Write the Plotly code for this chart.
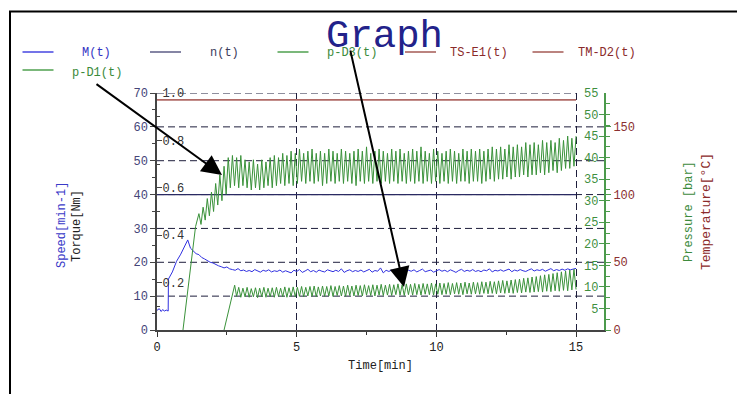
import numpy as np
import plotly.graph_objects as go

# ---------------- data ----------------
TIME_TICKS = [0, 5, 10, 15]
SPEED_TICKS = [0, 10, 20, 30, 40, 50, 60, 70]
TORQUE_TICKS = [0.2, 0.4, 0.6, 0.8, 1.0]
PRESSURE_TICKS = [5, 10, 15, 20, 25, 30, 35, 40, 45, 50, 55]
TEMP_TICKS = [0, 50, 100, 150]

# M(t) torque [Nm]: start-up segment, then samples every 0.1 min from 1.3 min
M_START_T = [0.0, 0.08, 0.15, 0.2, 0.27, 0.33, 0.4, 0.41, 0.55, 0.7, 0.85, 1.0, 1.1, 1.2]
M_START = [0.083, 0.09, 0.078, 0.086, 0.080, 0.084, 0.080, 0.215, 0.245, 0.290, 0.320, 0.355, 0.380, 0.345]
M_T0, M_STEP = 1.3, 0.1
M_VALUES = [
    0.335, 0.322, 0.318, 0.306, 0.300, 0.291, 0.286, 0.283, 0.276, 0.271,
    0.267, 0.262, 0.266, 0.258, 0.255, 0.252, 0.259, 0.250, 0.253, 0.247,
    0.251, 0.246, 0.255, 0.249, 0.244, 0.252, 0.248, 0.254, 0.245, 0.250,
    0.247, 0.253, 0.244, 0.250, 0.246, 0.241, 0.252, 0.247, 0.255, 0.243,
    0.249, 0.256, 0.246, 0.251, 0.244, 0.253, 0.248, 0.245, 0.254, 0.249,
    0.246, 0.252, 0.247, 0.258, 0.243, 0.250, 0.254, 0.246, 0.251, 0.247,
    0.253, 0.245, 0.250, 0.256, 0.244, 0.251, 0.248, 0.262, 0.241, 0.252,
    0.247, 0.253, 0.249, 0.245, 0.255, 0.250, 0.246, 0.252, 0.248, 0.254,
    0.245, 0.251, 0.257, 0.246, 0.250, 0.253, 0.244, 0.249, 0.255, 0.248,
    0.252, 0.246, 0.254, 0.249, 0.243, 0.251, 0.256, 0.247, 0.252, 0.248,
    0.255, 0.247, 0.251, 0.246, 0.253, 0.250, 0.258, 0.245, 0.252, 0.249,
    0.254, 0.248, 0.251, 0.257, 0.246, 0.253, 0.249, 0.255, 0.250, 0.247,
    0.253, 0.258, 0.249, 0.254, 0.251, 0.256, 0.248, 0.253, 0.259, 0.250,
    0.255, 0.251, 0.257, 0.252, 0.258, 0.254, 0.256, 0.260,
]

# n(t) speed [min-1]
N_T = [0, 15]
N_VALUES = [40, 40]

# p-D1(t) pressure [bar]: ramp, then peak/trough samples every 0.075 min from 1.5 min
P_D1_RAMP_T = [0.93, 1.38]
P_D1_RAMP = [0.0, 24.0]
P_D1_T0, P_D1_STEP = 1.5, 0.075
P_D1_OSC = [
    27.0, 24.5, 28.5, 25.5, 30.5, 26.5, 32.0, 27.5, 34.0, 29.0,
    36.0, 30.0, 38.0, 31.5, 40.0, 33.0, 40.5, 33.5, 40.0, 33.0,
    40.5, 33.5, 39.5, 33.0, 39.0, 32.5, 39.5, 33.0, 38.5, 32.5,
    39.5, 33.0, 39.0, 33.5, 40.0, 33.0, 40.5, 33.5, 40.0, 34.0,
    41.0, 33.5, 40.5, 34.0, 41.5, 33.5, 41.0, 34.0, 42.0, 34.5,
    41.0, 34.0, 41.5, 34.5, 42.0, 34.0, 41.0, 34.5, 41.5, 33.5,
    41.0, 34.0, 42.0, 34.5, 41.5, 34.0, 41.0, 34.5, 42.0, 34.0,
    41.5, 34.5, 41.0, 34.0, 41.5, 33.5, 42.0, 34.5, 41.5, 34.0,
    42.5, 34.5, 41.0, 34.0, 41.5, 34.5, 42.0, 34.0, 41.5, 34.5,
    41.0, 34.0, 42.0, 34.5, 41.5, 34.0, 42.0, 34.5, 41.0, 34.0,
    41.5, 34.5, 42.0, 34.0, 41.5, 34.5, 42.5, 34.0, 41.5, 34.5,
    41.0, 34.0, 42.0, 34.5, 41.5, 34.0, 41.0, 34.5, 41.5, 34.0,
    42.0, 34.5, 41.5, 34.0, 41.0, 34.5, 42.0, 34.5, 41.5, 34.0,
    42.0, 34.5, 41.5, 34.5, 42.0, 34.0, 41.5, 34.5, 42.0, 35.0,
    42.5, 34.5, 42.0, 35.0, 42.5, 35.0, 42.0, 35.5, 43.0, 35.0,
    42.5, 35.5, 43.0, 35.5, 42.5, 36.0, 43.5, 35.5, 43.0, 36.0,
    43.5, 36.0, 43.0, 36.5, 44.0, 36.0, 43.5, 36.5, 44.0, 37.0,
    43.5, 36.5, 44.5, 37.0, 44.0, 37.5, 45.0, 37.5, 44.5, 38.0,
    45.0,
]

# p-D3(t) pressure [bar]: ramp, then trough/peak samples every 0.075 min from 2.85 min
P_D3_RAMP_T = [2.4, 2.78]
P_D3_RAMP = [0.0, 10.4]
P_D3_T0, P_D3_STEP = 2.85, 0.075
P_D3_OSC = [
    7.8, 9.9, 7.6, 9.7, 7.7, 9.9, 7.6, 9.6, 7.7, 9.8,
    7.5, 9.7, 7.7, 9.9, 7.6, 9.7, 7.7, 9.8, 7.6, 9.9,
    7.8, 9.7, 7.7, 10.0, 7.6, 9.8, 7.8, 10.0, 7.7, 9.9,
    7.8, 10.1, 7.7, 9.9, 7.9, 10.1, 7.8, 10.2, 7.7, 10.0,
    7.9, 10.2, 7.8, 10.1, 7.9, 10.3, 7.8, 10.1, 8.0, 10.3,
    7.9, 10.2, 7.8, 10.4, 8.0, 10.2, 7.9, 10.4, 8.0, 10.3,
    7.9, 10.5, 8.1, 10.3, 8.0, 10.5, 7.9, 10.4, 8.1, 10.6,
    8.0, 10.4, 8.1, 10.6, 8.0, 10.5, 8.2, 10.7, 8.1, 10.5,
    8.0, 10.7, 8.2, 10.6, 8.1, 10.8, 8.2, 10.6, 8.1, 10.8,
    8.3, 10.7, 8.2, 10.9, 8.1, 10.7, 8.3, 10.9, 8.2, 10.8,
    8.3, 11.0, 8.2, 10.8, 8.4, 11.0, 8.3, 10.9, 8.2, 11.1,
    8.4, 10.9, 8.3, 11.1, 8.4, 11.0, 8.3, 11.2, 8.5, 11.1,
    8.4, 11.3, 8.5, 11.2, 8.4, 11.4, 8.6, 11.5, 8.5, 11.4,
    8.6, 11.6, 8.5, 11.7, 8.7, 11.8, 8.6, 12.0, 8.8, 12.1,
    8.7, 12.3, 8.8, 12.4, 8.9, 12.6, 8.8, 12.8, 9.0, 12.9,
    8.9, 13.1, 9.1, 13.3, 9.0, 13.5, 9.2, 13.7, 9.1, 13.9,
    9.3, 14.1, 9.4,
]

# temperatures [°C]
TS_E1_T = [0, 15]
TS_E1 = [170, 170]
TM_D2_T = [0, 15]
TM_D2 = [170, 170]

# legend: (name, line colour, text colour)
LEGEND = [
    ("M(t)", "#4646e0", "#3434c4"),
    ("n(t)", "#5c5c86", "#3c3c5c"),
    ("p-D3(t)", "#4fa04f", "#3a8a3a"),
    ("TS-E1(t)", "#a45a55", "#8a2a2a"),
    ("TM-D2(t)", "#a45a55", "#8a2a2a"),
    ("p-D1(t)", "#4fa04f", "#3a8a3a"),
]

# ---------------- geometry ----------------
W, H = 737, 394
L, T, PW, PH = 157, 93, 447, 237
FONT = "Liberation Mono, Courier New, monospace"


def px(xp):
    return (xp - L) / PW


def py(yp):
    return (T + PH - yp) / PH


def series_time(t0, step, n):
    return list(np.round(t0 + step * np.arange(n), 3))


fig = go.Figure()

green = "#3a923a"
fig.add_trace(go.Scatter(
    x=P_D1_RAMP_T + series_time(P_D1_T0, P_D1_STEP, len(P_D1_OSC)),
    y=P_D1_RAMP + P_D1_OSC, yaxis="y3", mode="lines",
    line=dict(color=green, width=1), name="p-D1(t)", showlegend=False))
fig.add_trace(go.Scatter(
    x=P_D3_RAMP_T + series_time(P_D3_T0, P_D3_STEP, len(P_D3_OSC)),
    y=P_D3_RAMP + P_D3_OSC, yaxis="y3", mode="lines",
    line=dict(color=green, width=1), name="p-D3(t)", showlegend=False))
fig.add_trace(go.Scatter(
    x=N_T, y=N_VALUES, yaxis="y", mode="lines",
    line=dict(color="#2a2a62", width=1.2), name="n(t)", showlegend=False))
fig.add_trace(go.Scatter(
    x=M_START_T + series_time(M_T0, M_STEP, len(M_VALUES)),
    y=M_START + M_VALUES, yaxis="y2", mode="lines",
    line=dict(color="#3030e0", width=1), name="M(t)", showlegend=False))
fig.add_trace(go.Scatter(
    x=TS_E1_T, y=TS_E1, yaxis="y4", mode="lines",
    line=dict(color="#b06a66", width=1.5), name="TS-E1(t)", showlegend=False))
fig.add_trace(go.Scatter(
    x=TM_D2_T, y=TM_D2, yaxis="y4", mode="lines",
    line=dict(color="#b06a66", width=1.5), name="TM-D2(t)", showlegend=False))

grid_dash = "7px,4px"
grid_col = "#1e1e3c"

shapes = []
# horizontal dashed grid on the speed scale
for v in SPEED_TICKS[1:]:
    shapes.append(dict(type="line", xref="x", yref="y", x0=0, x1=(15 if v == SPEED_TICKS[-1] else 16),
                       y0=v, y1=v, layer="below",
                       line=dict(color=grid_col, width=1, dash=grid_dash)))
# frame lines
shapes.append(dict(type="line", xref="paper", yref="paper", x0=px(9), x1=px(737),
                   y0=py(11.5), y1=py(11.5), line=dict(color="black", width=2)))
shapes.append(dict(type="line", xref="paper", yref="paper", x0=px(10), x1=px(10),
                   y0=py(11), y1=py(394), line=dict(color="black", width=2)))

annotations = []
# legend drawn as line samples and labels
for i, (name, lc, tc) in enumerate(LEGEND):
    row, col = divmod(i, 5)
    x0 = 22.5 + 127.5 * col
    ly = 52 + 18 * row
    shapes.append(dict(type="line", xref="paper", yref="paper", x0=px(x0), x1=px(x0 + 31),
                       y0=py(ly), y1=py(ly), line=dict(color=lc, width=1.5)))
    annotations.append(dict(xref="paper", yref="paper", x=px(x0 + 74), y=py(53 + 20 * row),
                            text=name, showarrow=False, xanchor="center", yanchor="middle",
                            font=dict(family=FONT, size=12, color=tc)))

# title
annotations.append(dict(xref="paper", yref="paper", x=px(384), y=py(37), text="Graph",
                        showarrow=False, xanchor="center", yanchor="middle",
                        font=dict(family=FONT, size=39, color="#22228a")))

# rotated axis titles
for text, xp, yp, col, size in [
    ("Speed[min-1]", 62, 225, "#3a3ac8", 12),
    ("Torque[Nm]", 77, 226, "#222222", 12),
    ("Pressure [bar]", 689, 212, "#3d8b3d", 12),
    ("Temperature[°C]", 706, 212, "#8b2a2a", 13),
]:
    annotations.append(dict(xref="paper", yref="paper", x=px(xp), y=py(yp), text=text,
                            showarrow=False, textangle=-90, xanchor="center", yanchor="middle",
                            font=dict(family=FONT, size=size, color=col)))

# pointer arrows
for tip, tail in [((222, 175), (95, 83)), ((404, 287), (350, 49))]:
    annotations.append(dict(xref="paper", yref="paper", x=px(tip[0]), y=py(tip[1]),
                            ax=tail[0] - tip[0], ay=tail[1] - tip[1], text="",
                            showarrow=True, arrowhead=2, arrowsize=2, arrowwidth=2,
                            arrowcolor="black", standoff=0))

tickfont = dict(family=FONT, size=12)

fig.update_layout(
    width=W, height=H,
    margin=dict(l=L, r=W - L - PW, t=T, b=H - T - PH),
    paper_bgcolor="white", plot_bgcolor="white",
    showlegend=False,
    xaxis=dict(range=[0, 16], tickvals=TIME_TICKS, ticks="outside", ticklen=5,
               tickcolor="#333", showline=True, linecolor="#444", linewidth=1.5,
               showgrid=True, gridcolor=grid_col, griddash=grid_dash, gridwidth=1,
               zeroline=False, tickfont=dict(tickfont, color="#222"),
               title=dict(text="Time[min]", font=dict(family=FONT, size=12, color="#222"),
                          standoff=6),
               minor=dict(dtick=2.5, ticks="outside", ticklen=3, tickcolor="#333")),
    yaxis=dict(range=[0, 70], tickvals=SPEED_TICKS, ticks="outside", ticklen=5,
               tickcolor="#444", showline=True, linecolor="#444", linewidth=1.5,
               showgrid=False, zeroline=False, tickfont=dict(tickfont, color="#454578"),
               minor=dict(dtick=5, ticks="outside", ticklen=3, tickcolor="#444")),
    yaxis2=dict(range=[0, 1.0], overlaying="y", side="left", anchor="x",
                tickvals=TORQUE_TICKS, tickformat=".1f", ticks="inside", ticklen=5,
                tickcolor="#444", ticklabelposition="inside", ticklabeloverflow="allow",
                showline=False, showgrid=False, zeroline=False,
                tickfont=dict(tickfont, color="#333"),
                minor=dict(dtick=0.1, ticks="inside", ticklen=3, tickcolor="#444")),
    yaxis3=dict(range=[0, 55], overlaying="y", side="right", anchor="x",
                tickvals=PRESSURE_TICKS, ticks="inside", ticklen=5, tickcolor="#4c9a4c",
                ticklabelposition="inside", ticklabeloverflow="allow",
                showline=True, linecolor="#4c9a4c", linewidth=2,
                showgrid=False, zeroline=False, tickfont=dict(tickfont, color="#3f8f3f"),
                minor=dict(dtick=2.5, ticks="outside", ticklen=4, tickcolor="#4c9a4c")),
    yaxis4=dict(range=[0, 175], overlaying="y", side="right", anchor="x",
                tickvals=TEMP_TICKS, ticks="outside", ticklen=6, tickcolor="#4c9a4c",
                showline=False, showgrid=False, zeroline=False,
                tickfont=dict(tickfont, color="#8b3030")),
    shapes=shapes,
    annotations=annotations,
)

fig.write_html("out.html")
